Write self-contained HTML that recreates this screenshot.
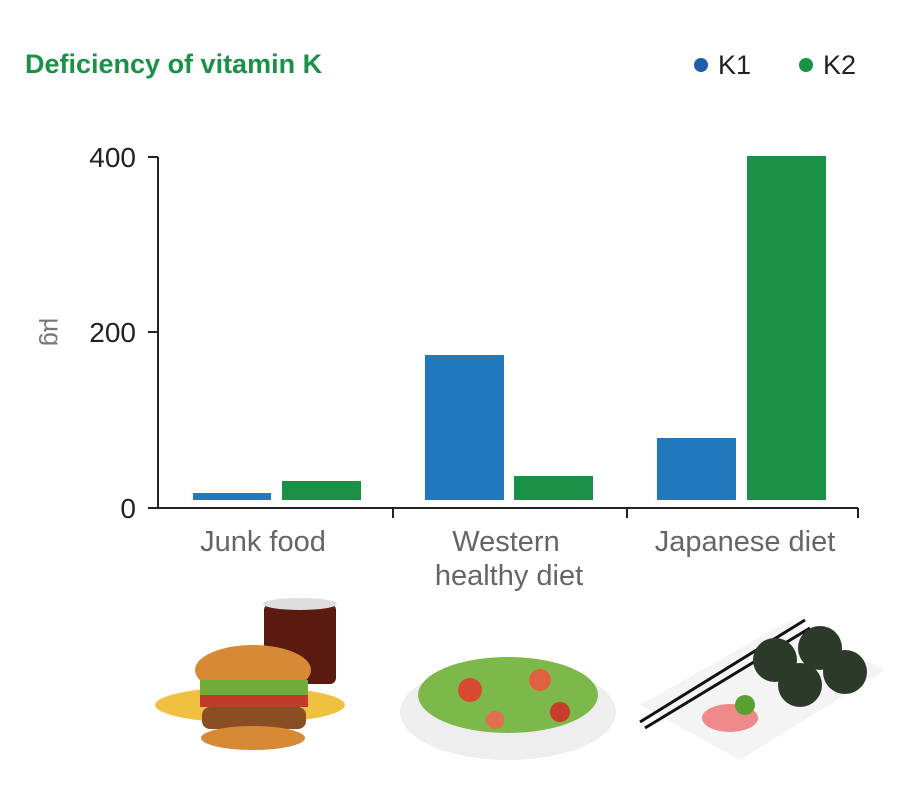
<!DOCTYPE html>
<html><head><meta charset="utf-8"><style>
body{margin:0;background:#fff;width:900px;height:807px;overflow:hidden;font-family:"Liberation Sans",sans-serif}
</style></head><body>
<svg width="900" height="807" xmlns="http://www.w3.org/2000/svg">
<text x="25" y="73" font-size="27" font-weight="bold" fill="#1a9146" font-family="Liberation Sans">Deficiency of vitamin K</text>
<circle cx="701" cy="65" r="7" fill="#1f5ea8"/>
<text x="718" y="74" font-size="27" fill="#222">K1</text>
<circle cx="806" cy="65" r="7" fill="#1a9146"/>
<text x="823" y="74" font-size="27" fill="#222">K2</text>
<g stroke="#222" stroke-width="2" fill="none">
<line x1="158" y1="157" x2="158" y2="509"/>
<line x1="158" y1="508" x2="858" y2="508"/>
<line x1="148" y1="157" x2="158" y2="157"/>
<line x1="148" y1="332" x2="158" y2="332"/>
<line x1="148" y1="508" x2="158" y2="508"/>
<line x1="393" y1="508" x2="393" y2="518"/>
<line x1="627" y1="508" x2="627" y2="518"/>
<line x1="858" y1="508" x2="858" y2="518"/>
</g>
<g font-size="28" fill="#222" text-anchor="end">
<text x="136" y="167">400</text><text x="136" y="342">200</text><text x="136" y="518">0</text>
</g>
<text transform="translate(44,332) rotate(90)" font-size="25" fill="#777" text-anchor="middle">µg</text>
<g fill="#2278bd">
<rect x="193" y="493" width="78" height="7"/>
<rect x="425" y="355" width="79" height="145"/>
<rect x="657" y="438" width="79" height="62"/>
</g>
<g fill="#1a9146">
<rect x="282" y="481" width="79" height="19"/>
<rect x="514" y="476" width="79" height="24"/>
<rect x="747" y="156" width="79" height="344"/>
</g>
<g font-size="29" fill="#666" text-anchor="middle">
<text x="263" y="551">Junk food</text>
<text x="506" y="551">Western</text>
<text x="509" y="585">healthy diet</text>
<text x="745" y="551">Japanese diet</text>
</g>
<rect x="264" y="604" width="72" height="80" fill="#5a1a10" rx="6"/>
<ellipse cx="300" cy="604" rx="37" ry="6" fill="#ddd"/>
<ellipse cx="250" cy="705" rx="95" ry="18" fill="#f0c040"/>
<ellipse cx="253" cy="670" rx="58" ry="25" fill="#d68a35"/>
<rect x="200" y="680" width="108" height="15" fill="#6fae3a"/>
<rect x="200" y="695" width="108" height="12" fill="#c23a2a"/>
<rect x="202" y="707" width="104" height="22" fill="#8a4e24" rx="8"/>
<ellipse cx="253" cy="738" rx="52" ry="12" fill="#d68a35"/>
<ellipse cx="508" cy="712" rx="108" ry="48" fill="#eee"/>
<ellipse cx="508" cy="695" rx="90" ry="38" fill="#7cb84a"/>
<circle cx="470" cy="690" r="12" fill="#d84a30"/><circle cx="540" cy="680" r="11" fill="#e06040"/><circle cx="560" cy="712" r="10" fill="#c83a2a"/><circle cx="495" cy="720" r="9" fill="#e07050"/>
<polygon points="640,705 790,620 885,670 740,760" fill="#f4f4f4"/>
<line x1="640" y1="722" x2="805" y2="620" stroke="#111" stroke-width="3"/>
<line x1="645" y1="728" x2="810" y2="628" stroke="#111" stroke-width="3"/>
<circle cx="775" cy="660" r="22" fill="#2c3a2a"/><circle cx="820" cy="648" r="22" fill="#2c3a2a"/><circle cx="800" cy="685" r="22" fill="#2c3a2a"/><circle cx="845" cy="672" r="22" fill="#2c3a2a"/>
<ellipse cx="730" cy="718" rx="28" ry="14" fill="#f08a8a"/>
<circle cx="745" cy="705" r="10" fill="#5aa030"/>
</svg>
</body></html>
